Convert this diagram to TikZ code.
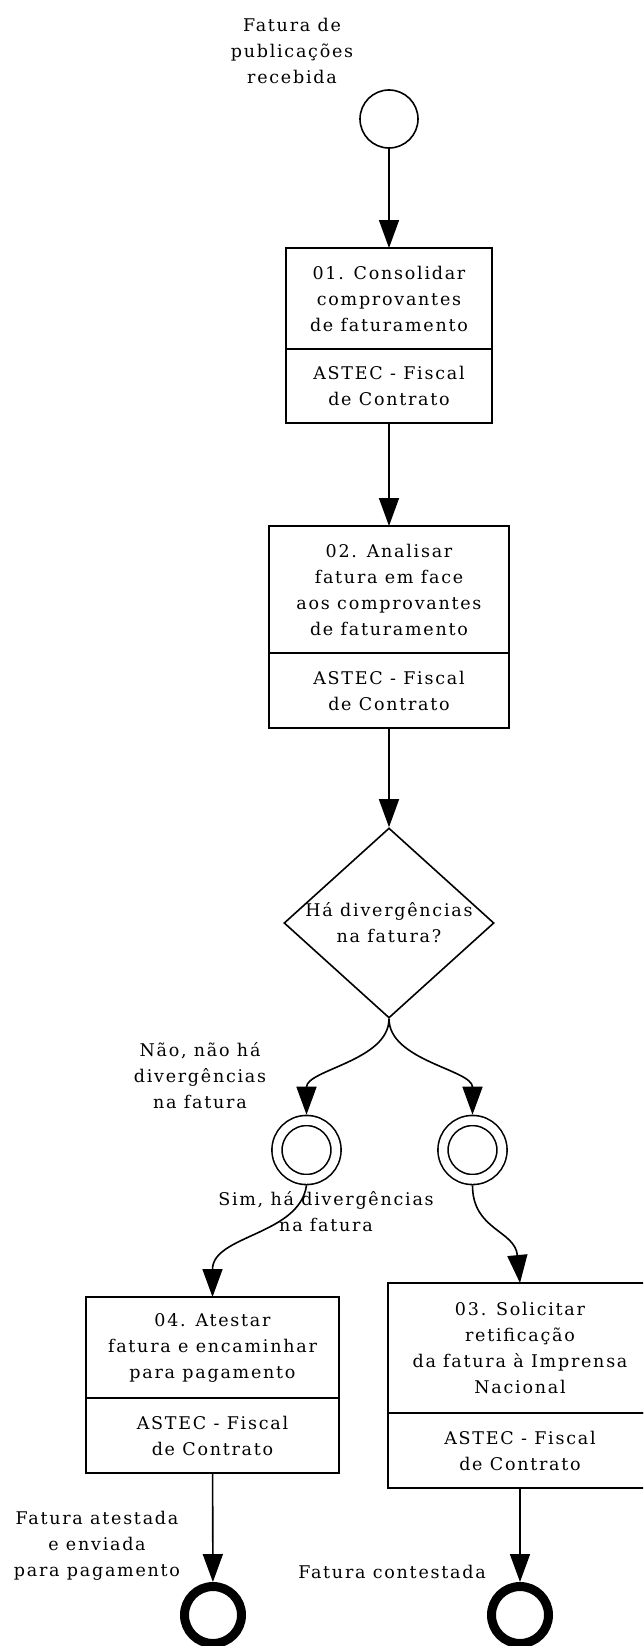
\documentclass[tikz,border=0pt]{standalone}
\usepackage{fontspec}
\setmainfont{DejaVu Serif}[LetterSpace=10]
\usetikzlibrary{shapes,arrows.meta,positioning}

\tikzset{
	txt/.style={font=\fontsize{17.5}{26}\selectfont, align=center, inner sep=0pt},
	task/.style={txt, draw, line width=2pt, outer sep=0pt},
	flow/.style={-{Triangle[length=28pt,width=20pt]}, line width=1.6pt},
	startev/.style={circle, draw, line width=1.6pt, minimum size=58pt, inner sep=0pt},
	midev/.style={circle, draw, double, double distance=8.5pt, line width=1.6pt, minimum size=59pt, inner sep=0pt, outer sep=5.8pt},
	endev/.style={circle, draw, line width=9pt, minimum size=57pt, inner sep=0pt, outer sep=4.5pt},
	gatew/.style={diamond, draw, line width=1.6pt, minimum width=210pt, minimum height=190pt, inner sep=0pt, txt}
}

\begin{document}
\begin{tikzpicture}[x=1pt,y=-1pt]
	\clip (0,0) rectangle (643,1646);
	\fill[white] (0,0) rectangle (643,1646);

	%start event
	\node[txt] (lblstart) at (292,51) {Fatura de\\publicações\\recebida};
	\node[startev] (start) at (389,119) {};

	%tasks 01 and 02
	\node[task, minimum width=206pt, minimum height=101pt] (act1) at (389,298.5) {01. Consolidar\\comprovantes\\de faturamento};
	\node[task, minimum width=206pt, minimum height=74pt, below=0pt of act1] (act1r) {ASTEC - Fiscal\\de Contrato};
	\node[task, minimum width=240pt, minimum height=127pt] (act2) at (389,589.5) {02. Analisar\\fatura em face\\aos comprovantes\\de faturamento};
	\node[task, minimum width=240pt, minimum height=75pt, below=0pt of act2] (act2r) {ASTEC - Fiscal\\de Contrato};

	%gateway
	\node[gatew] (gate) at (389,923) {\makebox[0pt]{Há divergências}\\\makebox[0pt]{na fatura?}};

	%intermediate events
	\node[midev] (gw1) at (306.5,1150) {};
	\node[midev] (gw2) at (472.5,1150) {};
	\node[txt] (lblno) at (200,1076) {Não, não há\\divergências\\na fatura};
	\node[txt] (lblyes) at (326,1212) {Sim, há divergências\\na fatura};

	%tasks 04 and 03
	\node[task, minimum width=253pt, minimum height=101pt] (act4) at (212.5,1347.5) {04. Atestar\\fatura e encaminhar\\para pagamento};
	\node[task, minimum width=253pt, minimum height=75pt, below=0pt of act4] (act4r) {ASTEC - Fiscal\\de Contrato};
	\node[task, minimum width=264pt, minimum height=130pt] (act3) at (520,1348) {03. Solicitar\\retificação\\da fatura à Imprensa\\Nacional};
	\node[task, minimum width=264pt, minimum height=75pt, below=0pt of act3] (act3r) {ASTEC - Fiscal\\de Contrato};

	%end events
	\node[endev] (end1) at (213,1615) {};
	\node[endev] (end2) at (520,1615) {};
	\node[txt] (lblend1) at (97,1546) {Fatura atestada\\e enviada\\para pagamento};
	\node[txt] (lblend2) at (392,1572) {Fatura contestada};

	%flows
	\draw[flow] (start) -- (act1);
	\draw[flow] (act1r) -- (act2);
	\draw[flow] (act2r) -- (gate);
	\draw[flow] (gate.south) .. controls +(0,42) and +(0,-45) .. (gw1.north);
	\draw[flow] (gate.south) .. controls +(0,42) and +(0,-45) .. (gw2.north);
	\draw[flow] (gw1.south) .. controls +(-7,50) and +(0,-62) .. (act4.north);
	\draw[flow] (gw2.south) .. controls +(0,45) and +(-5,-53) .. (act3.north);
	\draw[flow] (act4r) -- (end1);
	\draw[flow] (act3r) -- (end2);
\end{tikzpicture}
\end{document}
